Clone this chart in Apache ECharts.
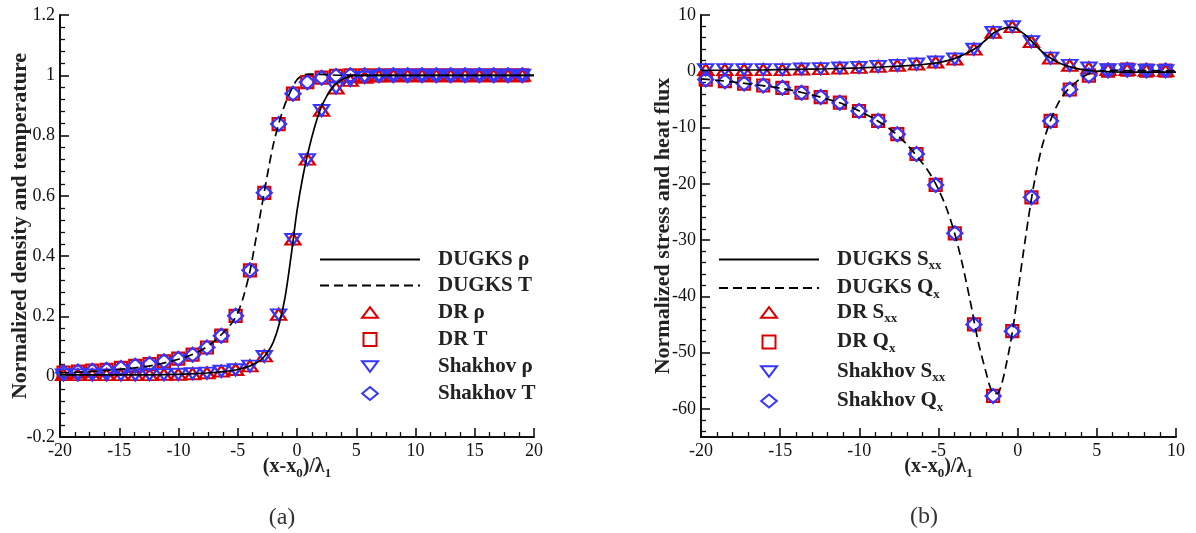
<!DOCTYPE html>
<html>
<head>
<meta charset="utf-8">
<script src="https://cdn.jsdelivr.net/npm/echarts@6/dist/echarts.min.js"></script>
<style>
  html, body { margin: 0; padding: 0; background: #ffffff; }
  #chart { width: 1196px; height: 533px; }
</style>
</head>
<body>
<div id="chart"></div>
<script>
// ---------- (a) density and temperature profiles ----------
const leftMarkerX = [-19.7, -18.49, -17.28, -16.07, -14.86, -13.65, -12.44, -11.23, -10.02, -8.81,
  -7.6, -6.39, -5.18, -3.97, -2.76, -1.55, -0.34, 0.87, 2.08, 3.29, 4.5, 5.71, 6.92, 8.13, 9.34,
  10.55, 11.76, 12.97, 14.18, 15.39, 16.6, 17.81, 19.02];
const drRho = [0.007, 0.007, 0.007, 0.007, 0.007, 0.007, 0.007, 0.008, 0.008, 0.01,
  0.013, 0.019, 0.024, 0.036, 0.069, 0.207, 0.457, 0.722, 0.884, 0.958, 0.983, 0.993, 0.998, 1.0, 1.0,
  1.0, 1.0, 1.0, 1.0, 1.0, 1.0, 1.0, 1.0];
const shakhovRho = [0.006, 0.006, 0.006, 0.006, 0.006, 0.006, 0.007, 0.007, 0.008, 0.01,
  0.012, 0.018, 0.023, 0.035, 0.067, 0.205, 0.455, 0.72, 0.883, 0.958, 0.983, 0.993, 0.998, 1.0, 1.0,
  1.0, 1.0, 1.0, 1.0, 1.0, 1.0, 1.0, 1.0];
const drT = [0.014, 0.017, 0.02, 0.023, 0.029, 0.036, 0.042, 0.051, 0.06, 0.073,
  0.097, 0.136, 0.202, 0.353, 0.61, 0.838, 0.939, 0.977, 0.992, 0.998, 1.0, 1.0, 1.0, 1.0, 1.0,
  1.0, 1.0, 1.0, 1.0, 1.0, 1.0, 1.0, 1.0];
const shakhovT = [0.014, 0.017, 0.02, 0.023, 0.029, 0.036, 0.042, 0.051, 0.06, 0.073,
  0.097, 0.136, 0.202, 0.353, 0.61, 0.838, 0.939, 0.977, 0.992, 0.998, 1.0, 1.0, 1.0, 1.0, 1.0,
  1.0, 1.0, 1.0, 1.0, 1.0, 1.0, 1.0, 1.0];
const dugksRhoX = [-20, -14, -10, -8, -7, -6, -5, -4, -3.5, -3, -2.5, -2, -1.5, -1, -0.5, 0,
  0.5, 1, 1.5, 2, 2.5, 3, 3.5, 4, 4.5, 5, 6, 20];
const dugksRhoY = [0.006, 0.006, 0.008, 0.011, 0.014, 0.018, 0.024, 0.035, 0.045, 0.057, 0.08,
  0.115, 0.175, 0.265, 0.4, 0.55, 0.665, 0.755, 0.83, 0.89, 0.93, 0.96, 0.978, 0.99, 0.997, 1.0, 1.0, 1.0];
const dugksTX = [-20, -18, -16, -14, -12, -10, -9, -8, -7, -6, -5.5, -5, -4.5, -4, -3.5, -3,
  -2.5, -2, -1.5, -1, -0.5, 0, 0.5, 1, 2, 3, 4, 20];
const dugksTY = [0.013, 0.016, 0.021, 0.028, 0.039, 0.058, 0.071, 0.09, 0.117, 0.155, 0.178,
  0.212, 0.268, 0.345, 0.45, 0.56, 0.67, 0.77, 0.845, 0.905, 0.95, 0.985, 1.0, 1.004, 1.003, 1.001, 1.0, 1.0];

// ---------- (b) stress and heat flux profiles ----------
const rightMarkerX = [-19.7, -18.49, -17.28, -16.07, -14.86, -13.65, -12.44, -11.23, -10.02, -8.81,
  -7.6, -6.39, -5.18, -3.97, -2.76, -1.55, -0.34, 0.87, 2.08, 3.29, 4.5, 5.71, 6.92, 8.13, 9.34];
const drSxx = [0.3, 0.3, 0.3, 0.3, 0.3, 0.41, 0.47, 0.59, 0.7, 0.88,
  1.06, 1.29, 1.65, 2.18, 3.94, 6.94, 7.94, 5.29, 2.35, 1.06, 0.59, 0.29, 0.29, 0.18, 0.12];
const shakhovSxx = [0.3, 0.3, 0.3, 0.3, 0.3, 0.4, 0.47, 0.58, 0.7, 0.87,
  1.05, 1.28, 1.64, 2.17, 3.92, 6.92, 7.92, 5.27, 2.34, 1.05, 0.58, 0.28, 0.28, 0.18, 0.12];
const drQx = [-1.47, -1.76, -2.18, -2.53, -2.94, -3.82, -4.59, -5.59, -7.06, -8.82,
  -11.18, -14.7, -20.2, -28.8, -45.0, -57.7, -46.2, -22.4, -8.82, -3.24, -0.76, 0.12, 0.29, 0.12, 0.12];
const shakhovQx = [-1.47, -1.76, -2.18, -2.53, -2.94, -3.82, -4.59, -5.59, -7.06, -8.82,
  -11.18, -14.7, -20.2, -28.8, -45.0, -57.7, -46.2, -22.4, -8.82, -3.24, -0.76, 0.12, 0.29, 0.12, 0.12];
const dugksSxxX = [-20, -18, -16, -14, -12, -10, -8, -7, -6, -5, -4.5, -4, -3.5, -3, -2.5, -2,
  -1.5, -1, -0.5, -0.25, 0, 0.5, 1, 1.5, 2, 2.5, 3, 3.5, 4, 4.5, 5, 6, 8, 10];
const dugksSxxY = [0.15, 0.2, 0.25, 0.35, 0.45, 0.6, 0.85, 1.0, 1.2, 1.55, 1.85, 2.25, 2.85, 3.5,
  4.4, 5.6, 6.85, 7.5, 7.85, 7.8, 7.45, 6.4, 5.0, 3.6, 2.5, 1.65, 1.05, 0.65, 0.35, 0.15, 0.0, -0.1, -0.15, -0.15];
const dugksQxX = [-20, -19, -18, -17, -16, -15, -14, -13, -12, -11, -10, -9, -8, -7, -6, -5.5,
  -5, -4.5, -4, -3.5, -3, -2.5, -2, -1.75, -1.5, -1.25, -1, -0.75, -0.5, -0.25, 0, 0.5, 1, 1.5,
  2, 2.5, 3, 3.5, 4, 4.5, 5, 6, 8, 10];
const dugksQxY = [-1.35, -1.6, -1.9, -2.25, -2.6, -3.0, -3.55, -4.2, -4.95, -5.85, -7.05, -8.55,
  -10.4, -13.0, -16.4, -18.4, -21.0, -24.3, -28.6, -34.2, -40.8, -48.0, -53.5, -56.0, -57.3, -57.2,
  -55.5, -52.5, -49.0, -44.8, -39.5, -29.5, -20.5, -13.8, -9.3, -6.0, -3.8, -2.4, -1.2, -0.45,
  -0.05, 0.15, 0.1, 0.05];

// ---------- axis ticks ----------
const leftXTicks = { min: -20, max: 20, interval: 5 };
const leftYTicks = { min: -0.2, max: 1.2, interval: 0.2 };
const rightXTicks = { min: -20, max: 10, interval: 5 };
const rightYRange = { min: -65, max: 10 };
const rightYMajor = [-60, -50, -40, -30, -20, -10, 0, 10];
const rightYMinor = [-64, -62, -58, -56, -54, -52, -48, -46, -44, -42, -38, -36, -34, -32,
  -28, -26, -24, -22, -18, -16, -14, -12, -8, -6, -4, -2, 2, 4, 6, 8];

// ---------- legend labels (rich text with subscripts) ----------
const legendLabels = {
  'DUGKS ρ': '{b|DUGKS ρ}',
  'DUGKS T': '{b|DUGKS T}',
  'DR ρ': '{b|DR ρ}',
  'DR T': '{b|DR T}',
  'Shakhov ρ': '{b|Shakhov ρ}',
  'Shakhov T': '{b|Shakhov T}',
  'DUGKS Sxx': '{b|DUGKS S}{s|xx}',
  'DUGKS Qx': '{b|DUGKS Q}{s|x}',
  'DR Sxx': '{b|DR S}{s|xx}',
  'DR Qx': '{b|DR Q}{s|x}',
  'Shakhov Sxx': '{b|Shakhov S}{s|xx}',
  'Shakhov Qx': '{b|Shakhov Q}{s|x}'
};

const SERIF = "'Liberation Serif', 'Times New Roman', serif";
const INK = '#111111';
const RED = '#d90000';
const BLUE = '#3535ff';

// marker outlines
const TRI_UP = 'path://M15,0L30,20L0,20Z';
const TRI_DOWN = 'path://M0,0L30,0L15,20Z';
const SQUARE = 'path://M0,0L10,0L10,10L0,10Z';
const DIAMOND = 'path://M18,0L36,15L18,30L0,15Z';

function zip(xs, ys) {
  return xs.map((x, i) => [x, ys[i]]);
}

const richText = {
  b: { fontFamily: SERIF, fontWeight: 'bold', fontSize: 21, lineHeight: 26, color: '#222' },
  s: { fontFamily: SERIF, fontWeight: 'bold', fontSize: 13, lineHeight: 13, verticalAlign: 'bottom', color: '#222' }
};

const axisNameRich = {
  b: { fontFamily: SERIF, fontWeight: 'bold', fontSize: 20, lineHeight: 26, color: '#222' },
  s: { fontFamily: SERIF, fontWeight: 'bold', fontSize: 13, lineHeight: 13, verticalAlign: 'bottom', color: '#222' }
};

function baseAxis(extra) {
  return Object.assign({
    type: 'value',
    splitLine: { show: false },
    axisLine: { show: true, onZero: false, lineStyle: { color: INK, width: 2 } },
    axisTick: { show: true, inside: true, length: 9, lineStyle: { color: INK, width: 1.6 } },
    axisLabel: { color: INK, fontFamily: SERIF, fontSize: 18, margin: 5 },
    minorTick: { show: true, length: 5, lineStyle: { color: INK, width: 1.3 } },
    nameMoveOverlap: false
  }, extra);
}

function xName() {
  return {
    name: '{b|(x-x}{s|0}{b|)/λ}{s|1}',
    nameLocation: 'middle',
    nameGap: 17,
    nameTextStyle: { rich: axisNameRich }
  };
}

function markerSeries(name, xi, yi, xs, ys, symbol, size, color) {
  return {
    name: name,
    type: 'scatter',
    xAxisIndex: xi,
    yAxisIndex: yi,
    data: zip(xs, ys),
    symbol: symbol,
    symbolSize: size,
    itemStyle: { color: 'rgba(0,0,0,0)', borderColor: color, borderWidth: 2.2, opacity: 1 },
    emphasis: { disabled: true },
    silent: true
  };
}

function lineSeries(name, xi, yi, xs, ys, dashed) {
  return {
    name: name,
    type: 'line',
    xAxisIndex: xi,
    yAxisIndex: yi,
    data: zip(xs, ys),
    symbol: 'none',
    smooth: 0.3,
    lineStyle: { color: '#000', width: 1.7, type: dashed ? [9, 5] : 'solid' },
    itemStyle: { color: 'rgba(0,0,0,0)', borderWidth: 0 },
    emphasis: { disabled: true },
    silent: true
  };
}

// line samples and marker samples are laid out as two stacked blocks
function lineLegend(left, names) {
  return {
    show: true, orient: 'vertical', left: left, top: 249, padding: 0,
    itemWidth: 100, itemHeight: 13, itemGap: 5, selectedMode: false,
    data: names,
    formatter: (name) => legendLabels[name],
    textStyle: { padding: [0, 0, 0, 13], rich: richText }
  };
}

function markerLegend(left, names) {
  return {
    show: true, orient: 'vertical', left: left, top: 302, padding: 0,
    itemWidth: 16, itemHeight: 13, itemGap: 6, selectedMode: false,
    symbolKeepAspect: true,
    data: names,
    formatter: (name) => legendLabels[name],
    textStyle: { padding: [0, 0, 0, 55], rich: richText }
  };
}

const chart = echarts.init(document.getElementById('chart'), null, { renderer: 'canvas' });

chart.setOption({
  animation: false,
  backgroundColor: '#ffffff',
  grid: [
    { left: 60, right: 662, top: 15, bottom: 96 },
    { left: 701, right: 20, top: 15, bottom: 96 }
  ],
  xAxis: [
    baseAxis(Object.assign({ gridIndex: 0, min: leftXTicks.min, max: leftXTicks.max, interval: leftXTicks.interval,
      minorTick: { show: true, splitNumber: 4, length: 5, lineStyle: { color: INK, width: 1.3 } } }, xName())),
    baseAxis(Object.assign({ gridIndex: 1, min: rightXTicks.min, max: rightXTicks.max, interval: rightXTicks.interval,
      minorTick: { show: true, splitNumber: 5, length: 5, lineStyle: { color: INK, width: 1.3 } } }, xName()))
  ],
  yAxis: [
    baseAxis({
      gridIndex: 0, position: 'left', min: leftYTicks.min, max: leftYTicks.max, interval: leftYTicks.interval,
      minorTick: { show: true, splitNumber: 5, length: 5, lineStyle: { color: INK, width: 1.3 } },
      name: 'Normalized density and temperature',
      nameLocation: 'middle', nameGap: 29,
      nameTextStyle: { fontFamily: SERIF, fontWeight: 'bold', fontSize: 22, color: '#222' }
    }),
    baseAxis({
      gridIndex: 1, position: 'left', min: rightYRange.min, max: rightYRange.max,
      axisLabel: { color: INK, fontFamily: SERIF, fontSize: 18, margin: 5, customValues: rightYMajor },
      axisTick: { show: true, inside: true, length: 9, lineStyle: { color: INK, width: 1.6 }, customValues: rightYMajor },
      minorTick: { show: false },
      name: 'Normalized stress and heat flux',
      nameLocation: 'middle', nameGap: 27,
      nameTextStyle: { fontFamily: SERIF, fontWeight: 'bold', fontSize: 22, color: '#222' }
    }),
    {
      // minor ticks of the stress / heat-flux axis
      type: 'value', gridIndex: 1, position: 'left', min: rightYRange.min, max: rightYRange.max,
      splitLine: { show: false },
      axisLine: { show: false, onZero: false },
      axisLabel: { show: false },
      axisTick: { show: true, inside: true, length: 5, lineStyle: { color: INK, width: 1.3 }, customValues: rightYMinor },
      minorTick: { show: false }
    }
  ],
  legend: [
    lineLegend(319, ['DUGKS ρ', 'DUGKS T']),
    markerLegend(361, ['DR ρ', 'DR T', 'Shakhov ρ', 'Shakhov T']),
    lineLegend(718, ['DUGKS Sxx', 'DUGKS Qx']),
    markerLegend(760, ['DR Sxx', 'DR Qx', 'Shakhov Sxx', 'Shakhov Qx'])
  ],
  series: [
    lineSeries('DUGKS ρ', 0, 0, dugksRhoX, dugksRhoY, false),
    lineSeries('DUGKS T', 0, 0, dugksTX, dugksTY, true),
    markerSeries('DR ρ', 0, 0, leftMarkerX, drRho, TRI_UP, [15, 11], RED),
    markerSeries('DR T', 0, 0, leftMarkerX, drT, SQUARE, [12, 12], RED),
    markerSeries('Shakhov ρ', 0, 0, leftMarkerX, shakhovRho, TRI_DOWN, [15, 11], BLUE),
    markerSeries('Shakhov T', 0, 0, leftMarkerX, shakhovT, DIAMOND, [15, 14], BLUE),

    lineSeries('DUGKS Sxx', 1, 1, dugksSxxX, dugksSxxY, false),
    lineSeries('DUGKS Qx', 1, 1, dugksQxX, dugksQxY, true),
    markerSeries('DR Sxx', 1, 1, rightMarkerX, drSxx, TRI_UP, [15, 11], RED),
    markerSeries('DR Qx', 1, 1, rightMarkerX, drQx, SQUARE, [12, 12], RED),
    markerSeries('Shakhov Sxx', 1, 1, rightMarkerX, shakhovSxx, TRI_DOWN, [15, 11], BLUE),
    markerSeries('Shakhov Qx', 1, 1, rightMarkerX, shakhovQx, DIAMOND, [15, 14], BLUE)
  ],
  graphic: [
    { type: 'text', x: 282, y: 518, style: { text: '(a)', font: '24px ' + SERIF, fill: '#333', align: 'center', verticalAlign: 'middle' } },
    { type: 'text', x: 924, y: 517, style: { text: '(b)', font: '24px ' + SERIF, fill: '#333', align: 'center', verticalAlign: 'middle' } }
  ]
});
</script>
</body>
</html>
